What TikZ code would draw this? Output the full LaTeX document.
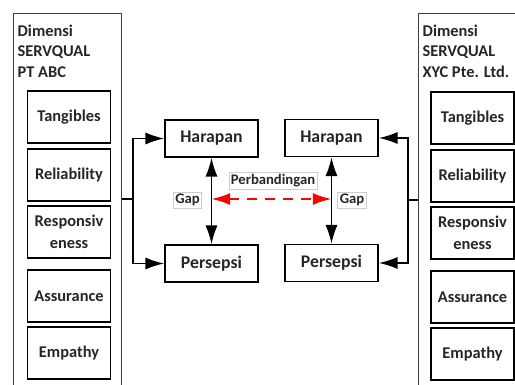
\documentclass[tikz,border=0pt]{standalone}
\usepackage{fontspec}
\setmainfont{Carlito}
\usetikzlibrary{arrows.meta, positioning}

\begin{document}
\begin{tikzpicture}[x=0.75pt,y=-0.75pt,>={Latex[length=14pt,width=9pt]},line width=1pt,node distance=3.4pt]
    \tikzset{outer/.style={draw=black!75, line width=0.9pt, anchor=north west, minimum width=81pt, minimum height=290pt, inner sep=0pt},
             title/.style={anchor=north west, inner sep=0pt, align=left, text=black!85, font=\fontsize{12.3}{15.5}\selectfont\bfseries},
             dim/.style={draw, line width=1.1pt, fill=white, minimum width=62pt, minimum height=39pt, align=center, inner sep=1pt, text=black!85, font=\fontsize{12.3}{16.5}\selectfont\bfseries},
             mid/.style={draw, line width=1.1pt, minimum width=70pt, minimum height=28pt, text=black!85, font=\fontsize{13.3}{16}\selectfont\bfseries},
             tag/.style={draw=black!20, line width=0.5pt, fill=white, inner sep=1.5pt, text=black!85, font=\fontsize{11}{13}\selectfont\bfseries},
             gaparrow/.style={<->, red, line width=1.5pt, dash pattern=on 7.5pt off 6pt}}
    \useasboundingbox (0,0) rectangle (515,385);
    % left company
    \node[outer] (lo) at (13,13) {};
    \node[title] (lt) at (17,24) {Dimensi\\SERVQUAL\\PT ABC};
    \node[dim] (lT) at (69,117) {Tangibles};
    \node[dim] (lR) [below=of lT] {Reliability};
    \node[dim] (lS) [below=2.65pt of lR] {Responsiv\\eness};
    \node[dim] (lA) [below=7.9pt of lS] {Assurance};
    \node[dim] (lE) [below=2.65pt of lA] {Empathy};
    % right company
    \node[outer] (ro) at (418,13) {};
    \node[title] (rt) at (422,24) {Dimensi\\SERVQUAL\\XYC Pte. Ltd.};
    \node[dim] (rT) at (472.5,118) {Tangibles};
    \node[dim] (rR) [below=of rT] {Reliability};
    \node[dim] (rS) [below=2.65pt of rR] {Responsiv\\eness};
    \node[dim] (rA) [below=7.9pt of rS] {Assurance};
    \node[dim] (rE) [below=2.65pt of rA] {Empathy};
    % expectation / perception
    \node[mid] (lh) at (211.5,138.5) {Harapan};
    \node[mid] (lp) at (211.5,263.5) {Persepsi};
    \node[mid] (rh) at (331.5,138) {Harapan};
    \node[mid] (rp) at (331.5,263) {Persepsi};
    \coordinate (lj) at (133,199);
    \coordinate (rj) at (408,200);
    \coordinate (lg) at (211.5,199);
    \coordinate (rg) at (331.5,199);
    \draw (lo.east |- lj) -- (lj);
    \draw[->] (lj) |- (lh);
    \draw[->] (lj) |- (lp);
    \draw (ro.west |- rj) -- (rj);
    \draw[->] (rj) |- (rh);
    \draw[->] (rj) |- (rp);
    \draw[<->] (lh.south) -- (lh.south |- lp.north);
    \draw[<->] (rh.south) -- (rh.south |- rp.north);
    \draw[gaparrow] (lg) -- (rg);
    \node[tag] (lgap) at (187.5,200) {Gap};
    \node[tag] (rgap) at (352,200) {Gap};
    \node[tag] (cmp) at (273,181) {Perbandingan};
\end{tikzpicture}
\end{document}
